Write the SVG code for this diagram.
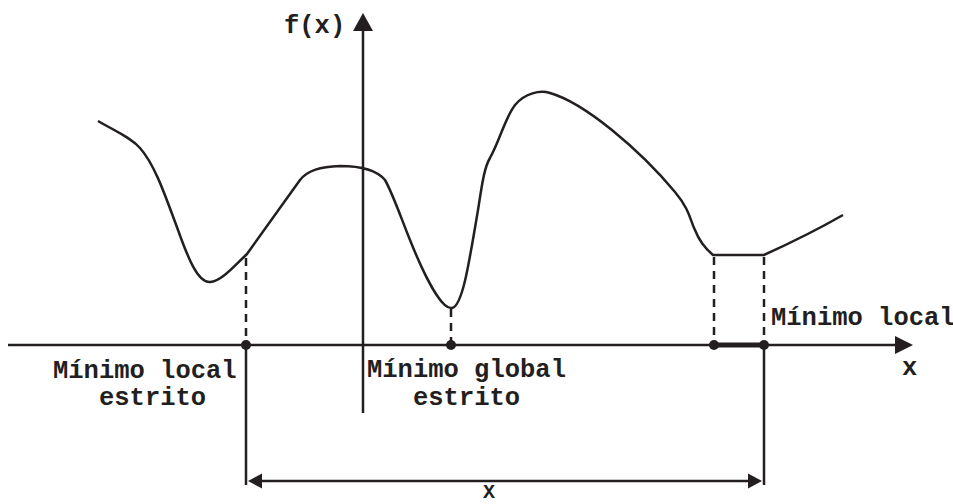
<svg xmlns="http://www.w3.org/2000/svg" width="953" height="504" viewBox="0 0 953 504">
<style>
.ln{stroke:#231f20;stroke-width:2.5;fill:none}
.cv{stroke:#231f20;stroke-width:2.5;fill:none;stroke-linejoin:round}
.ds{stroke:#231f20;stroke-width:2.5;fill:none;stroke-dasharray:8,6}
.ah{fill:#231f20}
.t{font-family:"Liberation Mono","Courier New",monospace;font-weight:bold;font-size:25.5px;fill:#231f20}
</style>
<rect width="953" height="504" fill="#fff"/>
<g id="curve">
<path class="cv" d="M98,121 C115,131 130,137 140,148 C155,165 165,195 178,230 C188,258 198,283 210,282 C222,281 235,265 247,254 L300,180 C308,170 320,167 340,166 C355,166 375,168 385,180 C392,192 400,215 410,240 C420,265 440,310 452,308 C462,306 468,270 478,210 C482,185 484,168 490,158 C500,140 505,118 515,105 C525,93 540,90 550,93 C585,103 640,150 675,192 C690,210 690,220 695,230 C700,243 707,250 713,255 L764,255 Q810,234 843,215"/>
</g>
<g id="connectors">
<line class="ln" x1="363" y1="28" x2="363" y2="413"/>
<polygon class="ah" points="363,13 353,31 373,31"/>
<line class="ln" x1="8" y1="345" x2="898" y2="345"/>
<polygon class="ah" points="913,345 895,336 895,354"/>
<line class="ds" x1="246" y1="258" x2="246" y2="345"/>
<line class="ds" x1="451" y1="309" x2="451" y2="345"/>
<line class="ds" x1="714" y1="257" x2="714" y2="345"/>
<line class="ds" x1="764" y1="257" x2="764" y2="345"/>
<line x1="714" y1="345" x2="764" y2="345" stroke="#231f20" stroke-width="5"/>
<circle class="ah" cx="246" cy="345" r="5"/>
<circle class="ah" cx="451" cy="345" r="5"/>
<circle class="ah" cx="714" cy="345" r="5"/>
<circle class="ah" cx="764" cy="345" r="5"/>
<line class="ln" x1="246" y1="345" x2="246" y2="485"/>
<line class="ln" x1="764" y1="345" x2="764" y2="485"/>
<line class="ln" x1="258" y1="481" x2="752" y2="481"/>
<polygon class="ah" points="248,481 262,473.5 262,488.5"/>
<polygon class="ah" points="762,481 748,473.5 748,488.5"/>
</g>
<g id="labels">
<text class="t" x="284" y="33">f(x)</text>
<text class="t" x="53" y="378">Mínimo local</text>
<text class="t" x="99" y="405">estrito</text>
<text class="t" x="367" y="377">Mínimo global</text>
<text class="t" x="413" y="405">estrito</text>
<text class="t" x="771" y="325">Mínimo local</text>
<text class="t" x="902" y="375">x</text>
<text class="t" x="483" y="498" style="font-size:20px">X</text>
</g>
</svg>
